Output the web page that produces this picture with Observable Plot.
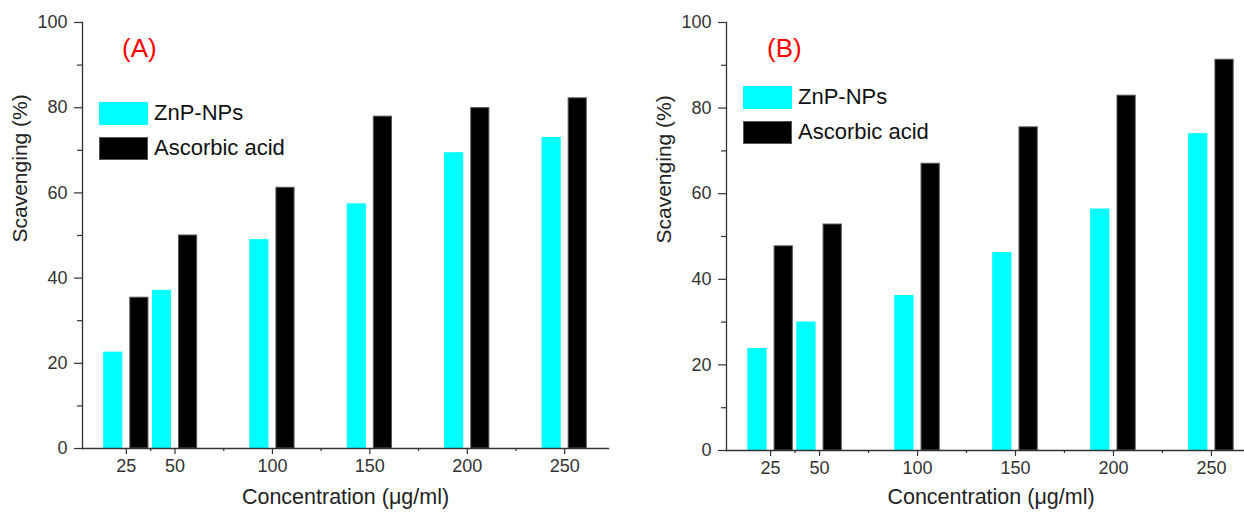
<!DOCTYPE html>
<html>
<head>
<meta charset="utf-8">
<script src="https://cdn.jsdelivr.net/npm/d3@7"></script>
<script src="https://cdn.jsdelivr.net/npm/@observablehq/plot@0.6"></script>
<style>
  html, body { margin: 0; padding: 0; background: #fff; overflow: hidden; }
  #wrap { position: relative; width: 1244px; height: 517px; overflow: hidden; font-family: "Liberation Sans", Arial, sans-serif; }
  .panel { position: absolute; top: 0; width: 640px; }
  .panel svg { max-width: none !important; }
  .tag { position: absolute; color: #ff0000; font-size: 26px; line-height: 26px; }
  .leg { position: absolute; display: flex; align-items: center; font-size: 22px; color: #111; }
  .sw { width: 49px; height: 23px; margin-right: 6px; box-sizing: border-box; }
</style>
</head>
<body>
<div id="wrap"></div>
<script>
// ---- data ----
const concentrations = [25, 50, 100, 150, 200, 250];
const seriesNames = ["ZnP-NPs", "Ascorbic acid"];
const seriesColors = ["#00ffff", "#000000"];
const znpA = [22.5, 37.0, 48.9, 57.3, 69.3, 72.9];
const ascA = [35.4, 50.0, 61.2, 77.9, 79.9, 82.2];
const znpB = [23.7, 29.9, 36.1, 46.1, 56.3, 73.9];
const ascB = [47.7, 52.8, 67.0, 75.5, 82.9, 91.3];
const panelTags = ["(A)", "(B)"];
const xMajorTicks = [25, 50, 100, 150, 200, 250];
const xMinorTicks = [37.5, 75, 125, 175, 225];
const yMajorTicks = [0, 20, 40, 60, 80, 100];
const yMinorTicks = [10, 30, 50, 70, 90];
const xTitle = "Concentration (\u03bcg/ml)";
const yTitle = "Scavenging (%)";

function rows(znp, asc) {
  const out = [];
  concentrations.forEach((c, i) => {
    out.push({conc: c, series: seriesNames[0], value: znp[i], side: -1});
    out.push({conc: c, series: seriesNames[1], value: asc[i], side: 1});
  });
  return out;
}

const font = "Liberation Sans, Arial, sans-serif";
const axisColor = "#333";

function makePanel(data, opts) {
  const inner = 2.05, outer = 11.35; // bar edges, in concentration units from the group centre
  return Plot.plot({
    width: opts.width,
    height: 517,
    marginLeft: opts.marginLeft,
    marginRight: opts.marginRight,
    marginTop: 22,
    marginBottom: opts.marginBottom,
    style: {fontFamily: font, background: "transparent", overflow: "visible", maxWidth: "none"},
    x: {domain: [2.5, 272.5]},
    y: {domain: [0, 100]},
    color: {domain: seriesNames, range: seriesColors},
    marks: [
      Plot.rectY(data, {
        x1: d => d.conc + d.side * inner,
        x2: d => d.conc + d.side * outer,
        y1: 0,
        y2: "value",
        fill: "series",
        stroke: d => d.side > 0 ? "#555" : "#00ffff",
        strokeWidth: 1
      }),
      Plot.frame({anchor: "left", stroke: axisColor, strokeWidth: 1.3}),
      Plot.frame({anchor: "bottom", stroke: axisColor, strokeWidth: 1.3}),
      Plot.axisY({ticks: yMajorTicks, tickSize: 8, tickPadding: 7, fontSize: 18, label: null, stroke: axisColor, color: "#333", strokeWidth: 1.2}),
      Plot.axisY({ticks: yMinorTicks, tickSize: 5, text: null, label: null, stroke: axisColor, strokeWidth: 1.2}),
      Plot.axisX({ticks: xMajorTicks, tickSize: 6, tickPadding: 5, fontSize: 18, label: null, stroke: axisColor, color: "#333", strokeWidth: 1.2}),
      Plot.axisX({ticks: xMinorTicks, tickSize: 3, text: null, label: null, stroke: axisColor, strokeWidth: 1.2}),
      Plot.text([xTitle], {text: d => d, frameAnchor: "bottom", dy: opts.xTitleDy, fontSize: 21.5, fill: "#222", fontFamily: font}),
      Plot.text([yTitle], {text: d => d, frameAnchor: "left", rotate: -90, dx: -62, dy: 7, fontSize: 21, fill: "#222", fontFamily: font})
    ]
  });
}

const wrap = document.getElementById("wrap");

const panels = [
  {data: rows(znpA, ascA), left: 0, width: 640, marginLeft: 82, marginRight: 32, marginBottom: 69, xTitleDy: 55,
   tag: {left: 122, top: 35}, leg: {left: 99, tops: [100, 135]}},
  {data: rows(znpB, ascB), left: 640, width: 640, marginLeft: 86, marginRight: 25, marginBottom: 67, xTitleDy: 53,
   tag: {left: 767, top: 35}, leg: {left: 743, tops: [84, 119]}}
];

panels.forEach((p, i) => {
  const div = document.createElement("div");
  div.className = "panel";
  div.style.left = p.left + "px";
  div.appendChild(makePanel(p.data, p));
  wrap.appendChild(div);

  const tag = document.createElement("div");
  tag.className = "tag";
  tag.style.left = p.tag.left + "px";
  tag.style.top = p.tag.top + "px";
  tag.textContent = panelTags[i];
  wrap.appendChild(tag);

  seriesNames.forEach((name, j) => {
    const row = document.createElement("div");
    row.className = "leg";
    row.style.left = p.leg.left + "px";
    row.style.top = p.leg.tops[j] + "px";
    const sw = document.createElement("div");
    sw.className = "sw";
    sw.style.background = seriesColors[j];
    if (j === 1) sw.style.border = "1px solid #555";
    const t = document.createElement("span");
    t.textContent = name;
    row.appendChild(sw);
    row.appendChild(t);
    wrap.appendChild(row);
  });
});
</script>
</body>
</html>
